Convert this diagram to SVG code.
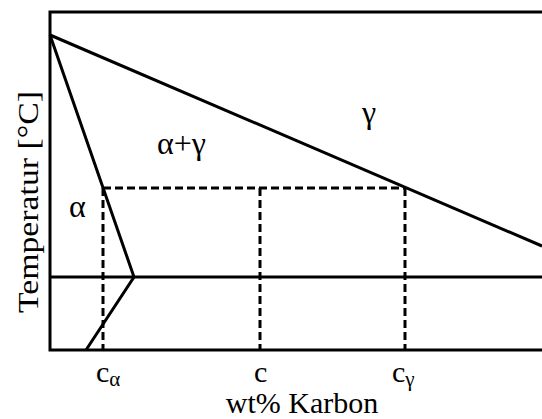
<svg xmlns="http://www.w3.org/2000/svg" width="542" height="419" viewBox="0 0 542 419">
<style>
.s{stroke:#000;stroke-width:3;fill:none;stroke-linecap:butt}
.d{stroke:#000;stroke-width:3;fill:none;stroke-dasharray:8 4}
.t{font-family:"Liberation Serif","Times New Roman",serif;fill:#000;font-size:30px}
.g{font-size:32px}
.sub{font-size:21px}
</style>
<rect width="542" height="419" fill="#fff"/>
<g id="connectors">
<path class="s" d="M542 12 H50 V350 H542"/>
<path class="s" d="M50 277 H542"/>
<path class="s" d="M50 35 L542 246"/>
<path class="s" d="M50 35 L134 277 L86 350"/>
<path class="d" d="M103 188 H405"/>
<path class="d" d="M103 188 V350"/>
<path class="d" d="M260 188 V350"/>
<path class="d" d="M405 188 V350"/>
</g>
<g id="label-gamma"><text class="t g" x="362" y="123">γ</text></g>
<g id="label-alpha-gamma"><text class="t g" x="157" y="154">α+γ</text></g>
<g id="label-alpha"><text class="t g" x="69" y="217">α</text></g>
<g id="label-temp"><text class="t" transform="translate(38,202) rotate(-90)" text-anchor="middle" textLength="222" lengthAdjust="spacingAndGlyphs">Temperatur [°C]</text></g>
<g id="label-calpha"><text class="t" x="96" y="382">c<tspan class="sub" dy="4">α</tspan></text></g>
<g id="label-c"><text class="t" x="254" y="382">c</text></g>
<g id="label-cgamma"><text class="t" x="392" y="382">c<tspan class="sub" dy="4">γ</tspan></text></g>
<g id="label-x"><text class="t" x="302" y="413" text-anchor="middle">wt% Karbon</text></g>
</svg>
